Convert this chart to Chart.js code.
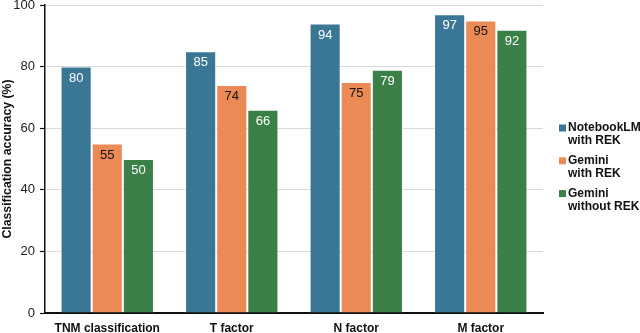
<!DOCTYPE html>
<html>
<head>
<meta charset="utf-8">
<script src="https://cdn.jsdelivr.net/npm/chart.js@4/dist/chart.umd.min.js"></script>
<style>
  html, body { margin: 0; padding: 0; background: #fff; }
  #wrap { width: 640px; height: 333px; position: relative; }
</style>
</head>
<body>
<div id="wrap"><canvas id="chart"></canvas></div>
<script>
// chart values
const categories = ['TNM classification', 'T factor', 'N factor', 'M factor'];
const seriesNames = [['NotebookLM', 'with REK'], ['Gemini', 'with REK'], ['Gemini', 'without REK']];
const notebookWithRek = [80, 85, 94, 97];
const geminiWithRek = [55, 74, 75, 95];
const geminiWithoutRek = [50, 66, 79, 92];
const yTicks = [0, 20, 40, 60, 80, 100];

const colors = ['#3a7794', '#ec8a55', '#3b8047'];
const labelColors = ['#ffffff', '#111111', '#ffffff'];
const FONT = '"Liberation Sans", Arial, sans-serif';

// value labels inside the top of every bar
const barLabels = {
  id: 'barLabels',
  afterDatasetsDraw(chart) {
    const ctx = chart.ctx;
    ctx.save();
    ctx.font = '13px ' + FONT;
    ctx.textAlign = 'center';
    ctx.textBaseline = 'middle';
    chart.data.datasets.forEach(function (ds, i) {
      chart.getDatasetMeta(i).data.forEach(function (bar, j) {
        ctx.fillStyle = labelColors[i];
        ctx.fillText(ds.data[j], bar.x, bar.y + 11.5);
      });
    });
    ctx.restore();
  }
};

// two-line legend on the right
const sideLegend = {
  id: 'sideLegend',
  afterDraw(chart) {
    const ctx = chart.ctx;
    ctx.save();
    ctx.font = 'bold 12px ' + FONT;
    ctx.textBaseline = 'middle';
    ctx.textAlign = 'left';
    seriesNames.forEach(function (lines, i) {
      const y0 = 128 + i * 32.8;
      ctx.fillStyle = colors[i];
      ctx.fillRect(559, y0 - 3.5, 7, 7);
      ctx.fillStyle = '#111';
      lines.forEach(function (t, k) {
        ctx.fillText(t, 568, y0 + k * 12.8);
      });
    });
    ctx.restore();
  }
};

const series = [notebookWithRek, geminiWithRek, geminiWithoutRek];

const chart = new Chart(document.getElementById('chart'), {
  type: 'bar',
  data: {
    labels: categories,
    datasets: series.map(function (vals, i) {
      return {
        label: seriesNames[i].join(' '),
        data: vals,
        backgroundColor: colors[i],
        borderColor: 'rgba(255,255,255,0.55)',
        borderWidth: 1,
        categoryPercentage: 0.75,
        barPercentage: 1.0
      };
    })
  },
  options: {
    responsive: true,
    maintainAspectRatio: false,
    animation: false,
    layout: { padding: { top: 5, right: 97, left: 0, bottom: 0 } },
    plugins: {
      legend: { display: false },
      tooltip: { enabled: false }
    },
    scales: {
      x: {
        grid: { display: false },
        border: { color: '#111', width: 2 },
        ticks: {
          color: '#111',
          padding: 0,
          font: { family: FONT, size: 12, weight: 'bold' }
        },
        afterFit: function (s) { s.height = 20; s.paddingLeft = 0; s.paddingRight = 0; }
      },
      y: {
        min: 0,
        max: 100,
        afterBuildTicks: function (s) {
          s.ticks = yTicks.map(function (v) { return { value: v }; });
        },
        grid: { color: '#d9d9d9', lineWidth: 1, drawTicks: true, tickLength: 5, tickColor: '#111', tickWidth: 1.2 },
        border: { color: '#111', width: 1.5 },
        ticks: {
          color: '#222',
          padding: 5,
          font: { family: FONT, size: 13 }
        },
        title: {
          display: true,
          text: 'Classification accuracy (%)',
          color: '#111',
          padding: { top: 0, bottom: 0 },
          font: { family: FONT, size: 12.3, weight: 'bold' }
        },
        afterFit: function (s) { s.width = 45; s.paddingTop = 0; s.paddingBottom = 0; }
      }
    }
  },
  plugins: [barLabels, sideLegend]
});
</script>
</body>
</html>
